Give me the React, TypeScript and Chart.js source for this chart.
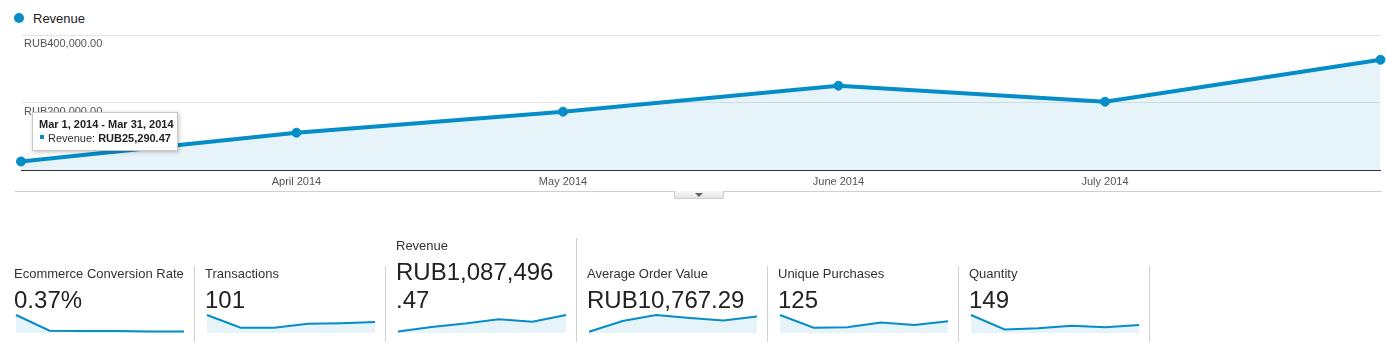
import React, { useEffect, useRef } from 'react';
import { Chart, registerables } from 'chart.js';

Chart.register(...registerables);

const FONT = "Arial, 'Liberation Sans', sans-serif";
const BLUE = '#058dc7';
const FILL = 'rgba(5,141,199,0.1)';

// ---- Main chart data ----
const periodStarts = ['2014-03-01', '2014-04-01', '2014-05-01', '2014-06-01', '2014-07-01', '2014-08-01'];
const revenue = [25290.47, 110500, 172800, 249800, 202400, 326706];
const xTickLabels = ['', 'April 2014', 'May 2014', 'June 2014', 'July 2014', ''];
const yTickValues = [0, 200000, 400000];
const seriesName = 'Revenue';
const tooltipRange = 'Mar 1, 2014 - Mar 31, 2014';
const tooltipIndex = 0;

// ---- Scorecards ----
const metricNames = ['Ecommerce Conversion Rate', 'Transactions', 'Revenue', 'Average Order Value', 'Unique Purchases', 'Quantity'];
const metricTotals = ['0.37%', '101', 'RUB1,087,496.47', 'RUB10,767.29', '125', '149'];
const conversionRate = [2.73, 0.35, 0.32, 0.29, 0.24, 0.24];
const transactions = [31, 9, 9, 16, 17, 19];
const avgOrderValue = [1340, 12800, 19100, 16000, 13200, 17600];
const uniquePurchases = [38, 11, 12, 22, 17, 25];
const quantity = [57, 11, 15, 23, 18, 25];
const sparkSeries = [conversionRate, transactions, revenue, avgOrderValue, uniquePurchases, quantity];

const dayOffset = (s: string) => {
  const [y, m, d] = s.split('-').map(Number);
  const [y0, m0, d0] = periodStarts[0].split('-').map(Number);
  return Math.round((Date.UTC(y, m - 1, d) - Date.UTC(y0, m0 - 1, d0)) / 86400000);
};
const xDays = periodStarts.map(dayOffset);

const fmtRub = (v: number) =>
  'RUB' + v.toLocaleString('en-US', { minimumFractionDigits: 2, maximumFractionDigits: 2 });

const tooltipPlugin = {
  id: 'staticTip',
  afterDraw(chart: any) {
    const pt = chart.getDatasetMeta(0).data[tooltipIndex];
    if (!pt) return;
    const ctx = chart.ctx;
    const x = Math.round(pt.x) + 11;
    const y = Math.round(pt.y) - 49;
    const w = 146;
    const h = 39;
    ctx.save();
    ctx.shadowColor = 'rgba(0,0,0,0.25)';
    ctx.shadowBlur = 4;
    ctx.shadowOffsetX = 1;
    ctx.shadowOffsetY = 1;
    ctx.fillStyle = '#fff';
    ctx.fillRect(x, y, w, h);
    ctx.shadowColor = 'transparent';
    ctx.strokeStyle = '#c8c8c8';
    ctx.lineWidth = 1;
    ctx.strokeRect(x + 0.5, y + 0.5, w - 1, h - 1);
    ctx.textBaseline = 'alphabetic';
    ctx.textAlign = 'left';
    ctx.fillStyle = '#222';
    ctx.font = 'bold 11px ' + FONT;
    ctx.fillText(tooltipRange, x + 7, y + 16);
    ctx.fillStyle = BLUE;
    ctx.fillRect(x + 8, y + 23, 4, 4);
    ctx.fillStyle = '#333';
    ctx.font = '11px ' + FONT;
    const lbl = seriesName + ': ';
    ctx.fillText(lbl, x + 16, y + 30);
    const lw = ctx.measureText(lbl).width;
    ctx.fillStyle = '#222';
    ctx.font = 'bold 11px ' + FONT;
    ctx.fillText(fmtRub(revenue[tooltipIndex]), x + 16 + lw, y + 30);
    ctx.restore();
  },
};

function MainChart() {
  const ref = useRef<HTMLCanvasElement>(null);
  useEffect(() => {
    const chart = new Chart(ref.current!, {
      type: 'line',
      data: {
        datasets: [
          {
            label: seriesName,
            data: xDays.map((d, i) => ({ x: d, y: revenue[i] })),
            borderColor: BLUE,
            backgroundColor: FILL,
            fill: 'origin',
            borderWidth: 4,
            pointRadius: 4.5,
            pointBorderWidth: 1,
            pointBackgroundColor: BLUE,
            pointBorderColor: BLUE,
            tension: 0,
            clip: false as any,
          },
        ],
      },
      options: {
        animation: false,
        responsive: false,
        events: [],
        layout: { padding: { left: 21, right: 4, top: 35, bottom: 0 } },
        plugins: { legend: { display: false }, tooltip: { enabled: false } },
        scales: {
          x: {
            type: 'linear',
            min: xDays[0],
            max: xDays[xDays.length - 1],
            grid: { display: false, drawTicks: false },
            border: { display: true, color: '#333', width: 1 },
            afterBuildTicks: (scale: any) => {
              scale.ticks = xDays
                .map((d, i) => ({ value: d, i }))
                .filter((t) => xTickLabels[t.i] !== '')
                .map((t) => ({ value: t.value }));
            },
            afterFit: (scale: any) => {
              scale.height = 30;
            },
            ticks: {
              autoSkip: false,
              maxRotation: 0,
              padding: 5,
              color: '#555',
              font: { family: FONT, size: 11 },
              callback: (v: any) => {
                const i = xDays.indexOf(Number(v));
                return i >= 0 ? xTickLabels[i] : '';
              },
            },
          },
          y: {
            min: yTickValues[0],
            max: yTickValues[yTickValues.length - 1],
            grid: { color: '#e6e6e6', drawTicks: false },
            border: { display: false },
            afterBuildTicks: (scale: any) => {
              scale.ticks = yTickValues.map((v) => ({ value: v }));
            },
            afterFit: (scale: any) => {
              scale.width = 0;
            },
            ticks: {
              mirror: true,
              padding: 3,
              labelOffset: 9,
              color: '#555',
              font: { family: FONT, size: 11 },
              callback: (v: any) => (Number(v) === 0 ? null : fmtRub(Number(v))),
            },
          },
        },
      },
      plugins: [tooltipPlugin],
    });
    return () => chart.destroy();
  }, []);
  return (
    <canvas
      ref={ref}
      width={1386}
      height={200}
      style={{ position: 'absolute', left: 0, top: 0, width: 1386, height: 200 }}
    />
  );
}

function Sparkline({ data }: { data: number[] }) {
  const ref = useRef<HTMLCanvasElement>(null);
  useEffect(() => {
    const chart = new Chart(ref.current!, {
      type: 'line',
      data: {
        labels: data.map((_, i) => String(i)),
        datasets: [
          {
            data,
            borderColor: BLUE,
            backgroundColor: FILL,
            fill: 'origin',
            borderWidth: 2,
            pointRadius: 0,
            tension: 0,
            clip: false as any,
          },
        ],
      },
      options: {
        animation: false,
        responsive: false,
        events: [],
        layout: { padding: { left: 2, right: 2, top: 2, bottom: 2 } },
        plugins: { legend: { display: false }, tooltip: { enabled: false } },
        scales: {
          x: { display: false },
          y: { display: false, min: 0, max: Math.max(...data) },
        },
      },
    });
    return () => chart.destroy();
  }, [data]);
  return (
    <canvas
      ref={ref}
      width={172}
      height={22}
      style={{ position: 'absolute', left: 0, top: -1, width: 172, height: 22 }}
    />
  );
}

function TotalValue({ text }: { text: string }) {
  const dot = text.lastIndexOf('.');
  if (dot <= 0) return <>{text}</>;
  return (
    <>
      {text.slice(0, dot)}
      <wbr />
      {text.slice(dot)}
    </>
  );
}

export default function App() {
  return (
    <div
      style={{
        position: 'fixed',
        left: 0,
        top: 0,
        width: 1386,
        height: 362,
        background: '#fff',
        overflow: 'hidden',
        fontFamily: FONT,
      }}
    >
      {/* legend */}
      <div
        style={{
          position: 'absolute',
          left: 14,
          top: 13,
          width: 10,
          height: 10,
          borderRadius: 5,
          background: BLUE,
        }}
      />
      <div
        style={{
          position: 'absolute',
          left: 33,
          top: 11,
          fontSize: 13,
          lineHeight: '15px',
          color: '#222',
        }}
      >
        {seriesName}
      </div>

      <MainChart />

      {/* bottom rule and toggle */}
      <div style={{ position: 'absolute', left: 15, top: 191, width: 1367, height: 1, background: '#cfcfcf' }} />
      <div
        style={{
          position: 'absolute',
          left: 674,
          top: 191,
          width: 50,
          height: 8,
          boxSizing: 'border-box',
          border: '1px solid #cfcfcf',
          borderTop: 'none',
          borderRadius: '0 0 2px 2px',
          background: 'linear-gradient(#f8f8f8, #e4e4e4)',
        }}
      >
        <div
          style={{
            position: 'absolute',
            left: 20,
            top: 2,
            width: 0,
            height: 0,
            borderLeft: '4px solid transparent',
            borderRight: '4px solid transparent',
            borderTop: '4px solid #666',
          }}
        />
      </div>

      {/* scorecards */}
      <div
        style={{
          position: 'absolute',
          left: 4,
          top: 0,
          height: 342,
          display: 'flex',
          alignItems: 'flex-end',
        }}
      >
        {metricNames.map((name, i) => (
          <div
            key={name}
            style={{
              width: 191,
              boxSizing: 'border-box',
              borderRight: '1px solid #d0d0d0',
              paddingLeft: 10,
              display: 'flex',
              flexDirection: 'column',
            }}
          >
            <div style={{ fontSize: 13, lineHeight: '15px', color: '#333', marginBottom: 5, whiteSpace: 'nowrap' }}>
              {name}
            </div>
            <div
              style={{
                fontSize: 24,
                lineHeight: '28px',
                color: '#222',
                width: 175,
              }}
            >
              <TotalValue text={metricTotals[i]} />
            </div>
            <div style={{ position: 'relative', height: 28 }}>
              <Sparkline data={sparkSeries[i]} />
            </div>
          </div>
        ))}
      </div>
    </div>
  );
}
